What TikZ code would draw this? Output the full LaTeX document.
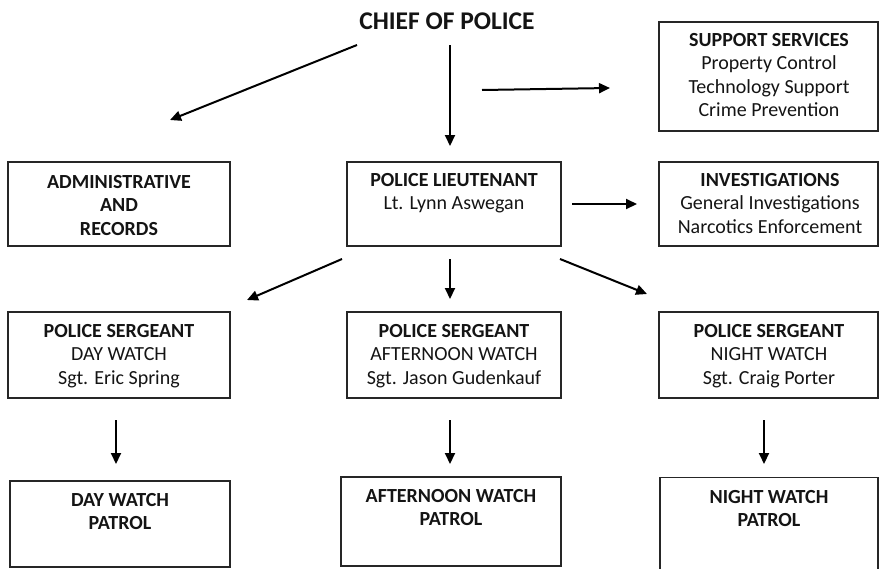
\documentclass[tikz,border=0pt]{standalone}
\usepackage{fontspec}
\setmainfont{Carlito}
\usetikzlibrary{arrows.meta}
\tikzset{
  orgbox/.style={draw=black!85, line width=1.6pt, inner sep=0pt, minimum width=#1},
  orgtxt/.style={anchor=base, inner sep=0pt, text=black!92, font=\fontsize{20}{23.5}\selectfont},
  orgarr/.style={draw=black, line width=2pt, -{Triangle[length=11pt,width=10pt]}}
}
\newcommand{\orglines}[1]{\begin{tabular}[t]{@{}c@{}}#1\end{tabular}}
\begin{document}
\begin{tikzpicture}[x=1pt,y=-1pt]
\useasboundingbox (0,0) rectangle (880,568);
% title
\node[orgtxt, font=\fontsize{25.5}{29}\selectfont\bfseries] (chief) at (447,29.5) {CHIEF OF POLICE};
% boxes
\node[orgbox=219pt, minimum height=109pt] (sup) at (768.5,76.5) {};
\node[orgtxt] (supt) at (769,46.4) {\orglines{\textbf{SUPPORT SERVICES}\\Property Control\\Technology Support\\Crime Prevention}};
\node[orgbox=222pt, minimum height=84pt] (adm) at (119,204) {};
\node[orgtxt] (admt) at (119,188.4) {\orglines{\textbf{ADMINISTRATIVE}\\\textbf{AND}\\\textbf{RECORDS}}};
\node[orgbox=214pt, minimum height=84pt] (lt) at (454,204) {};
\node[orgtxt] (ltt) at (454,186.4) {\orglines{\textbf{POLICE LIEUTENANT}\\Lt. Lynn Aswegan}};
\node[orgbox=219pt, minimum height=84pt] (inv) at (768.5,204) {};
\node[orgtxt] (invt) at (770,186.4) {\orglines{\textbf{INVESTIGATIONS}\\General Investigations\\Narcotics Enforcement}};
\node[orgbox=222pt, minimum height=86pt] (sgd) at (119,355) {};
\node[orgtxt] (sgdt) at (119,337.4) {\orglines{\textbf{POLICE SERGEANT}\\DAY WATCH\\Sgt. Eric Spring}};
\node[orgbox=214pt, minimum height=86pt] (sga) at (454,355) {};
\node[orgtxt] (sgat) at (454,337.4) {\orglines{\textbf{POLICE SERGEANT}\\AFTERNOON WATCH\\Sgt. Jason Gudenkauf}};
\node[orgbox=219pt, minimum height=86pt] (sgn) at (768.5,355) {};
\node[orgtxt] (sgnt) at (769,337.4) {\orglines{\textbf{POLICE SERGEANT}\\NIGHT WATCH\\Sgt. Craig Porter}};
\node[orgbox=220pt, minimum height=86pt] (ptd) at (120,524) {};
\node[orgtxt] (ptdt) at (120,506.4) {\orglines{\textbf{DAY WATCH}\\\textbf{PATROL}}};
\node[orgbox=220pt, minimum height=89pt] (pta) at (451,521.5) {};
\node[orgtxt] (ptat) at (451,502.4) {\orglines{\textbf{AFTERNOON WATCH}\\\textbf{PATROL}}};
\node[orgbox=218pt, minimum height=93pt] (ptn) at (769,524) {};
\node[orgtxt] (ptnt) at (769,503.4) {\orglines{\textbf{NIGHT WATCH}\\\textbf{PATROL}}};
% arrow end points
\coordinate (c1s) at (357,45);  \coordinate (c1e) at (170,120);
\coordinate (c2s) at (450,45);  \coordinate (c2e) at (450,146);
\coordinate (c3s) at (482,90);  \coordinate (c3e) at (610,88);
\coordinate (l1s) at (572,204); \coordinate (l1e) at (637,204);
\coordinate (l2s) at (342,259); \coordinate (l2e) at (247,300);
\coordinate (l3s) at (450,259); \coordinate (l3e) at (450,299);
\coordinate (l4s) at (560,259); \coordinate (l4e) at (647,294);
\coordinate (s1s) at (116,420); \coordinate (s1e) at (116,464);
\coordinate (s2s) at (450,420); \coordinate (s2e) at (450,464);
\coordinate (s3s) at (764,420); \coordinate (s3e) at (764,464);
% arrows
\draw[orgarr] (c1s) -- (c1e);
\draw[orgarr] (c2s) -- (c2e);
\draw[orgarr] (c3s) -- (c3e);
\draw[orgarr] (l1s) -- (l1e);
\draw[orgarr] (l2s) -- (l2e);
\draw[orgarr] (l3s) -- (l3e);
\draw[orgarr] (l4s) -- (l4e);
\draw[orgarr] (s1s) -- (s1e);
\draw[orgarr] (s2s) -- (s2e);
\draw[orgarr] (s3s) -- (s3e);
\end{tikzpicture}
\end{document}
